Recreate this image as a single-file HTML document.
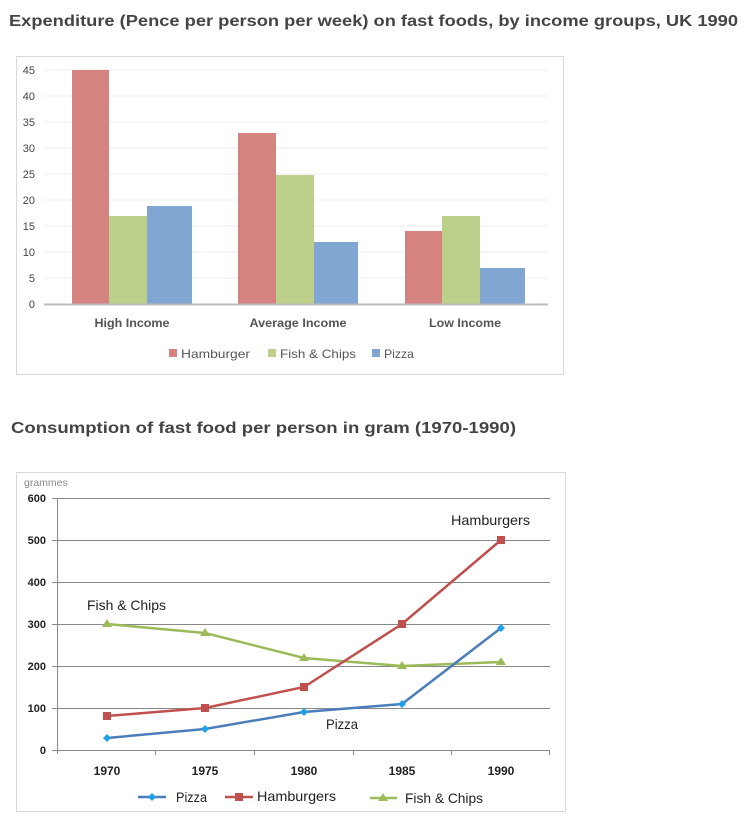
<!DOCTYPE html>
<html><head><meta charset="utf-8"><style>
body{margin:0;background:#fff;width:750px;height:816px;overflow:hidden;font-family:"Liberation Sans","DejaVu Sans",sans-serif}
</style></head><body>
<svg width="750" height="816" xmlns="http://www.w3.org/2000/svg" font-family="Liberation Sans, DejaVu Sans, sans-serif">
<text x="9" y="26" font-size="16" font-weight="bold" fill="#444" textLength="729" lengthAdjust="spacingAndGlyphs">Expenditure (Pence per person per week) on fast foods, by income groups, UK 1990</text>
<rect x="16.5" y="56.5" width="547" height="318" fill="#fff" stroke="#d9d9d9"/>
<g stroke="#eee" stroke-width="1">
<line x1="44" x2="548" y1="70" y2="70"/><line x1="44" x2="548" y1="96" y2="96"/><line x1="44" x2="548" y1="122" y2="122"/><line x1="44" x2="548" y1="148" y2="148"/><line x1="44" x2="548" y1="174" y2="174"/><line x1="44" x2="548" y1="200" y2="200"/><line x1="44" x2="548" y1="226" y2="226"/><line x1="44" x2="548" y1="252" y2="252"/><line x1="44" x2="548" y1="278" y2="278"/>
</g>
<g font-size="11" fill="#444" text-anchor="end">
<text x="35" y="74">45</text><text x="35" y="100">40</text><text x="35" y="126">35</text><text x="35" y="152">30</text><text x="35" y="178">25</text><text x="35" y="204">20</text><text x="35" y="230">15</text><text x="35" y="256">10</text><text x="35" y="282">5</text><text x="35" y="308">0</text>
</g>
<rect x="72" y="70" width="37" height="234" fill="#d48380"/>
<rect x="109" y="216" width="38" height="88" fill="#bccf8b"/>
<rect x="147" y="206" width="45" height="98" fill="#82a6d2"/>
<rect x="238" y="133" width="38" height="171" fill="#d48380"/>
<rect x="276" y="175" width="38" height="129" fill="#bccf8b"/>
<rect x="314" y="242" width="44" height="62" fill="#82a6d2"/>
<rect x="405" y="231" width="37" height="73" fill="#d48380"/>
<rect x="442" y="216" width="38" height="88" fill="#bccf8b"/>
<rect x="480" y="268" width="45" height="36" fill="#82a6d2"/>
<line x1="44" x2="548" y1="304.5" y2="304.5" stroke="#bbb" stroke-width="2"/>
<g font-size="12" font-weight="bold" fill="#555" text-anchor="middle">
<text x="132" y="327" textLength="75" lengthAdjust="spacingAndGlyphs">High Income</text><text x="298" y="327" textLength="97" lengthAdjust="spacingAndGlyphs">Average Income</text><text x="465" y="327" textLength="72" lengthAdjust="spacingAndGlyphs">Low Income</text>
</g>
<g font-size="12" fill="#555">
<rect x="169" y="349" width="8" height="8" fill="#d48380"/><text x="181" y="358" textLength="69" lengthAdjust="spacingAndGlyphs">Hamburger</text>
<rect x="268" y="349" width="8" height="8" fill="#bccf8b"/><text x="280" y="358" textLength="76" lengthAdjust="spacingAndGlyphs">Fish &amp; Chips</text>
<rect x="372" y="349" width="8" height="8" fill="#82a6d2"/><text x="384" y="358" textLength="30" lengthAdjust="spacingAndGlyphs">Pizza</text>
</g>

<text x="11" y="433" font-size="16" font-weight="bold" fill="#444" textLength="505" lengthAdjust="spacingAndGlyphs">Consumption of fast food per person in gram (1970-1990)</text>
<rect x="16.5" y="472.5" width="549" height="339" fill="#fff" stroke="#d9d9d9"/>
<text x="24" y="486" font-size="10.5" fill="#888">grammes</text>
<g stroke="#888" stroke-width="1">
<line x1="57" x2="550" y1="498.5" y2="498.5"/><line x1="57" x2="550" y1="540.5" y2="540.5"/><line x1="57" x2="550" y1="582.5" y2="582.5"/><line x1="57" x2="550" y1="624.5" y2="624.5"/><line x1="57" x2="550" y1="666.5" y2="666.5"/><line x1="57" x2="550" y1="708.5" y2="708.5"/><line x1="57" x2="550" y1="750.5" y2="750.5"/>
<line x1="57.5" x2="57.5" y1="498" y2="754"/>
<line x1="52" x2="57" y1="498.5" y2="498.5"/><line x1="52" x2="57" y1="540.5" y2="540.5"/><line x1="52" x2="57" y1="582.5" y2="582.5"/><line x1="52" x2="57" y1="624.5" y2="624.5"/><line x1="52" x2="57" y1="666.5" y2="666.5"/><line x1="52" x2="57" y1="708.5" y2="708.5"/><line x1="52" x2="57" y1="750.5" y2="750.5"/>
<line x1="155.5" x2="155.5" y1="750" y2="755"/><line x1="254.5" x2="254.5" y1="750" y2="755"/><line x1="353.5" x2="353.5" y1="750" y2="755"/><line x1="451.5" x2="451.5" y1="750" y2="755"/><line x1="549.5" x2="549.5" y1="750" y2="755"/>
</g>
<g font-size="11" font-weight="bold" fill="#222" text-anchor="end">
<text x="46" y="502">600</text><text x="46" y="544">500</text><text x="46" y="586">400</text><text x="46" y="628">300</text><text x="46" y="670">200</text><text x="46" y="712">100</text><text x="46" y="754">0</text>
</g>
<g font-size="12" font-weight="bold" fill="#222" text-anchor="middle">
<text x="107" y="775">1970</text><text x="205" y="775">1975</text><text x="304" y="775">1980</text><text x="402" y="775">1985</text><text x="501" y="775">1990</text>
</g>
<polyline points="107,624 205,633 304,658 402,666 501,662" fill="none" stroke="#9bbb59" stroke-width="2.5"/>
<polyline points="107,716 205,708 304,687 402,624 501,540" fill="none" stroke="#c0504d" stroke-width="2.5"/>
<polyline points="107,738 205,729 304,712 402,704 501,628" fill="none" stroke="#4a7ebb" stroke-width="2.5"/>
<g fill="#9bbb59"><path d="M107,619l5,8h-10z"/><path d="M205,628l5,8h-10z"/><path d="M304,653l5,8h-10z"/><path d="M402,661l5,8h-10z"/><path d="M501,657l5,8h-10z"/></g>
<g fill="#c0504d"><rect x="103" y="712" width="8" height="8"/><rect x="201" y="704" width="8" height="8"/><rect x="300" y="683" width="8" height="8"/><rect x="398" y="620" width="8" height="8"/><rect x="497" y="536" width="8" height="8"/></g>
<g fill="#1ea0e6"><path d="M107,734l4,4l-4,4l-4,-4z"/><path d="M205,725l4,4l-4,4l-4,-4z"/><path d="M304,708l4,4l-4,4l-4,-4z"/><path d="M402,700l4,4l-4,4l-4,-4z"/><path d="M501,624l4,4l-4,4l-4,-4z"/></g>
<g font-size="14" fill="#222">
<text x="87" y="610" textLength="79" lengthAdjust="spacingAndGlyphs">Fish &amp; Chips</text><text x="451" y="525" textLength="79" lengthAdjust="spacingAndGlyphs">Hamburgers</text><text x="326" y="729" textLength="32" lengthAdjust="spacingAndGlyphs">Pizza</text>
</g>
<line x1="138" x2="166" y1="797" y2="797" stroke="#4a7ebb" stroke-width="2.5"/><path d="M152,793l4,4l-4,4l-4,-4z" fill="#1ea0e6"/>
<line x1="225" x2="253" y1="797" y2="797" stroke="#c0504d" stroke-width="2.5"/><rect x="235" y="793" width="8" height="8" fill="#c0504d"/>
<line x1="370" x2="397" y1="798" y2="798" stroke="#9bbb59" stroke-width="2.5"/><path d="M383,793l5,8h-10z" fill="#9bbb59"/>
<g font-size="14" fill="#222"><text x="176" y="802" textLength="31" lengthAdjust="spacingAndGlyphs">Pizza</text><text x="257" y="801" textLength="79" lengthAdjust="spacingAndGlyphs">Hamburgers</text><text x="405" y="803" textLength="78" lengthAdjust="spacingAndGlyphs">Fish &amp; Chips</text></g>
</svg>
</body></html>
